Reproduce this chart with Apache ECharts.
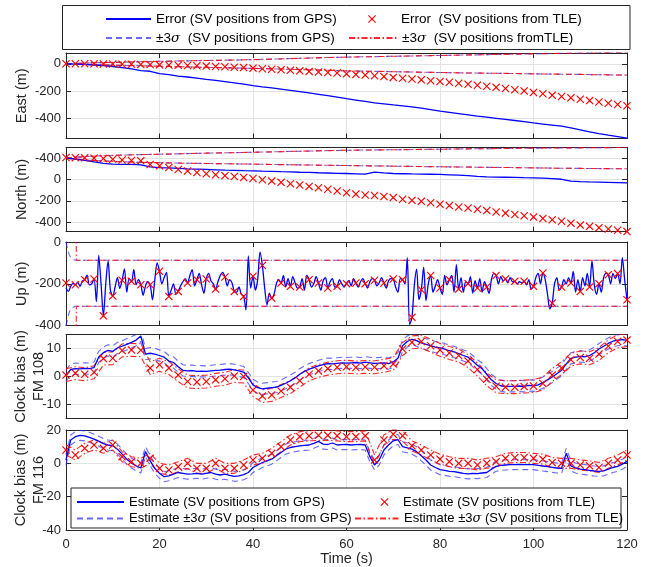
<!DOCTYPE html>
<html>
<head>
<meta charset="utf-8">
<script src="https://cdn.jsdelivr.net/npm/echarts@6/dist/echarts.min.js"></script>
<style>
html, body { margin: 0; padding: 0; background: #fff; }
#chart { width: 646px; height: 567px; }
</style>
</head>
<body>
<div id="chart"></div>
<script>
// x axis
const timeTicks = [0, 20, 40, 60, 80, 100, 120];

// East (m), samples every 2 s
const eastGps = [0, -2, -5, -9, -14, -20, -28, -38, -50, -55, -72, -80, -90, -97, -105, -114, -122, -131, -140, -150,
  -160, -169, -177, -186, -195, -204, -214, -224, -234, -245, -256, -266, -276, -286, -294, -302, -308, -316, -326, -337,
  -348, -357, -366, -375, -384, -392, -400, -408, -416, -425, -434, -442, -450, -458, -470, -484, -500, -513, -524, -534, -545];
const eastTle = [0, 0, 0, 0, -1, -2, -3, -4, -5, -6, -8, -9, -11, -13, -15, -17, -20, -22, -25, -28,
  -32, -36, -40, -44, -48, -52, -56, -60, -64, -68, -74, -78, -83, -88, -94, -100, -106, -112, -118, -124,
  -130, -136, -143, -150, -157, -165, -173, -181, -190, -199, -210, -220, -230, -240, -250, -260, -270, -280, -290, -299, -308];
// East +/-3 sigma, samples every 5 s
const eastSigHi = [0, 6, 10, 14, 18, 21, 24, 27, 30, 35, 40, 45, 49, 52, 55, 58, 61, 64, 67, 70, 73, 76, 79, 82, 85];
const eastSigLo = [0, -6, -10, -14, -18, -22, -26, -30, -34, -38, -42, -47, -52, -55, -58, -61, -64, -67, -69, -71, -74, -76, -78, -81, -83];

// North (m), samples every 2 s
const northGps = [200, 192, 180, 165, 152, 144, 141, 141, 138, 118, 112, 108, 104, 100, 97, 94, 91, 88, 86, 83,
  81, 78, 76, 73, 71, 68, 66, 63, 61, 58, 56, 53, 50, 70, 62, 56, 54, 52, 51, 49,
  47, 44, 41, 36, 30, 25, 23, 21, 19, 17, 16, 13, 8, 2, -16, -20, -23, -25, -27, -29, -31];
const northTle = [206, 205, 203, 200, 197, 190, 183, 178, 175, 141, 128, 112, 94, 80, 66, 54, 44, 36, 28, 18,
  9, -3, -15, -27, -40, -52, -65, -78, -92, -108, -125, -137, -145, -150, -160, -170, -185, -196, -205, -218,
  -232, -245, -258, -268, -280, -292, -305, -316, -328, -340, -353, -365, -378, -392, -410, -428, -440, -452, -465, -477, -489];
// North +/-3 sigma, samples every 5 s
const northSigHi = [200, 218, 226, 232, 237, 242, 247, 251, 256, 260, 265, 270, 274, 277, 279, 282, 284, 287, 289, 292, 294, 296, 297, 299, 300];
const northSigLo = [200, 180, 170, 162, 157, 153, 150, 147, 144, 140, 137, 134, 131, 128, 125, 122, 119, 117, 114, 112, 109, 106, 104, 102, 100];
const northTickText = { '200': '-400', '0': '0', '-200': '-200', '-400': '-400' };

// Up (m), GPS every 0.5 s
const upGps = [
  -220, -236, -212, -198, -204, -192, -212, -186, -180, -158, -205, -200, -177, -285, -64, -200,
  -353, -200, -92, -230, -258, -215, -170, -222, -183, -128, -240, -175, -188, -132, -205, -180,
  -204, -255, -210, -190, -204, -276, -180, -100, -140, -200, -170, -145, -260, -230, -200, -250,
  -236, -210, -190, -175, -196, -160, -132, -210, -180, -150, -205, -245, -177, -150, -185, -200,
  -225, -190, -160, -145, -167, -210, -180, -195, -236, -240, -215, -250, -260, -324, -67, -220,
  -164, -230, -180, -48, -112, -220, -300, -245, -268, -250, -200, -180, -196, -160, -215, -175,
  -212, -165, -195, -220, -215, -175, -230, -160, -180, -215, -200, -165, -196, -230, -185, -170,
  -220, -190, -175, -215, -212, -180, -200, -215, -199, -185, -210, -175, -196, -215, -190, -175,
  -199, -220, -190, -175, -183, -210, -195, -170, -196, -220, -185, -175, -177, -215, -240, -175,
  -180, -200, -75, -395, -360, -210, -130, -275, -228, -120, -280, -200, -160, -240, -210, -180,
  -220, -250, -160, -205, -180, -160, -240, -108, -225, -170, -240, -190, -199, -165, -245, -185,
  -220, -175, -240, -190, -215, -245, -180, -150, -160, -200, -165, -185, -177, -195, -170, -190,
  -188, -200, -190, -195, -188, -205, -180, -225, -212, -170, -150, -200, -148, -180, -250, -320,
  -292, -200, -170, -230, -215, -180, -200, -170, -196, -140, -240, -180, -236, -170, -210, -150,
  -215, -90, -205, -250, -199, -240, -170, -150, -156, -200, -150, -175, -151, -200, -75, -180,
  -276];
// Up TLE, every 2 s
const upTle = [-196, -204, -180, -177, -353, -258, -183, -188, -204, -204, -140, -260, -236, -196, -180, -177, -225, -167, -236, -260,
  -164, -112, -268, -196, -212, -215, -180, -196, -220, -212, -199, -196, -199, -183, -196, -177, -180, -360, -228, -160,
  -220, -180, -225, -199, -220, -215, -160, -177, -188, -188, -212, -148, -292, -215, -196, -236, -215, -199, -156, -151, -276];
// Up +/-3 sigma
const upSigGpsT = [0, 0.3, 0.7, 1.2, 2, 120];
const upSigGpsHi = [0, -30, -62, -80, -87, -87];
const upSigGpsLo = [-400, -370, -335, -315, -307, -307];
const upSigTleT = [2.2, 2.2, 120];
const upSigTleHi = [100, -87, -87];
const upSigTleLo = [-500, -307, -307];

// Clock bias FM 108 (m), GPS every 1 s, TLE every 2 s
const clk108Gps = [0.3, 2.5, 2.8, 2.7, 2.9, 2.8, 3.2, 7.0, 8.5, 9.3, 9.0, 10.2, 10.8, 11.5, 12.2, 13.0, 14.5, 8.0, 8.3, 8.0,
  7.5, 6.9, 5.5, 5.0, 3.5, 2.2, 2.0, 2.1, 1.8, 1.9, 1.8, 2.0, 2.2, 2.3, 2.5, 2.6, 2.4, 2.0, 1.6, -0.5,
  -3.0, -4.0, -4.4, -4.2, -4.0, -3.8, -3.2, -2.4, -1.5, -0.5, 0.8, 1.8, 2.6, 3.2, 3.8, 4.2, 4.6, 4.5, 4.7, 4.9,
  4.8, 4.9, 5.0, 4.8, 5.1, 4.9, 4.7, 4.8, 4.9, 4.6, 5.2, 6.5, 11.0, 12.5, 13.3, 12.8, 12.0, 11.5, 11.0, 10.5,
  10.2, 9.8, 9.2, 8.8, 8.2, 7.5, 6.9, 5.5, 4.0, 2.8, 0.8, -1.2, -2.5, -3.3, -3.6, -3.5, -3.5, -3.4, -3.5, -3.2,
  -3.3, -3.0, -2.2, -1.2, -0.2, 1.0, 2.2, 4.5, 6.5, 6.9, 7.2, 7.0, 7.5, 8.5, 9.8, 10.8, 11.8, 12.6, 13.0, 13.2, 12.9];
const clk108Tle = [0.5, 1.2, 0.8, 1.5, 6.4, 6.5, 9.3, 9.5, 9.4, 3.0, 4.2, 3.0, 0.5, -1.8, -2.0, -1.8, -1.2, -0.8, 0.2, 0.0,
  -4.8, -7.0, -6.6, -5.2, -3.8, -1.5, 0.8, 2.0, 2.8, 3.3, 3.5, 3.2, 3.4, 3.3, 3.8, 4.5, 9.8, 12.2, 12.5, 11.0,
  9.5, 8.4, 7.5, 5.5, 2.5, -1.0, -3.5, -3.8, -3.8, -3.6, -3.4, -2.5, 0.5, 3.0, 6.0, 6.8, 6.5, 8.0, 10.8, 12.5, 13.0];
const clk108GpsSig = 2.0;
const clk108TleSig = 2.3;

// Clock bias FM 116 (m)
const clk116Gps = [2.0, 14.0, 16.0, 16.8, 16.5, 15.6, 14.5, 13.3, 11.8, 11.0, 10.5, 8.5, 5.5, 2.5, 0.2, -1.5, -2.8, 7.0, 1.5, -3.0,
  -6.0, -8.0, -7.5, -6.5, -5.5, -6.0, -6.5, -6.3, -6.0, -6.5, -6.0, -5.5, -6.5, -7.0, -6.5, -7.2, -7.8, -7.5, -6.8, -5.5,
  -2.5, -1.0, 0.5, 1.5, 2.5, 4.5, 6.5, 8.5, 9.5, 10.0, 10.5, 10.8, 11.0, 12.0, 13.2, 11.5, 11.3, 12.2, 11.0, 11.2,
  11.3, 11.0, 11.2, 11.3, 11.0, 4.0, -1.0, 2.0, 8.0, 11.0, 13.5, 14.3, 10.0, 9.3, 8.5, 7.0, 4.5, 2.0, -1.0, -2.5,
  -3.8, -4.2, -4.8, -5.0, -5.5, -6.0, -6.3, -6.0, -6.2, -5.8, -5.5, -3.5, -1.8, -1.2, -1.0, -0.8, -0.8, -0.7, -0.8, -0.8,
  -0.8, -1.2, -1.6, -2.0, -2.4, -2.8, -3.0, 6.0, -1.5, -2.8, -3.5, -3.8, -4.2, -4.6, -4.8, -4.5, -3.5, -2.5, -1.8, -0.5, 1.2];
const clk116Tle = [8, 5, 9, 11, 9, 11, 4, 1, 0, 3, -3, -4, -2, 0, -3, -3, 0, -3, -3, -1,
  2, 3, 6, 10, 14, 16, 16.5, 16.8, 16.8, 16.5, 16, 16, 16.5, 2, 14, 17.5, 16.5, 10.5, 8, 5,
  2.5, 1, 0, 0, -1, 0, 1, 3, 3.5, 3.5, 3, 2.5, 0.5, 0, 0, -1, -1.5, -2.5, 0, 2, 5];
const clk116GpsSig = 3.0;
const clk116TleSig = 3.0;

// legend names
const errGps = 'Error (SV positions from GPS)';
const errTle = 'Error  (SV positions from TLE)';
const sigGps = '±3σ  (SV positions from GPS)';
const sigTle = '±3σ  (SV positions fromTLE)';
const estGps = 'Estimate (SV positions from GPS)';
const estTle = 'Estimate (SV positions from TLE)';
const estSigGps = 'Estimate ±3σ (SV positions from GPS)';
const estSigTle = 'Estimate ±3σ (SV positions from TLE)';

const font = 'Liberation Sans, Arial, Helvetica, sans-serif';
const axisColor = '#262626';
const gridColor = '#e3e3e3';
const blue = '#0000ff';
const red = '#ff0000';
const blueDash = 'rgba(40,40,255,0.7)';
const redDash = 'rgba(255,0,0,0.85)';
const xMark = 'path://M0,1L1,0L5,4L9,0L10,1L6,5L10,9L9,10L5,6L1,10L0,9L4,5Z';

function every(step, vals) {
  return vals.map((v, i) => [i * step, v]);
}
function zip(ts, vals) {
  return ts.map((t, i) => [t, vals[i]]);
}
function shift(step, vals, d) {
  return vals.map((v, i) => [i * step, v + d]);
}

const panels = [
  { top: 53, height: 85.5, name: 'East (m)', min: -548, max: 79, step: 200 },
  { top: 147.3, height: 84.4, name: 'North (m)', min: -490, max: 302, step: 200, labels: northTickText },
  { top: 242, height: 83.7, name: 'Up (m)', min: -400, max: 0, step: 200 },
  { top: 334.5, height: 84, name: 'Clock bias (m)\nFM 108', min: -15, max: 15, step: 10 },
  { top: 430, height: 100, name: 'Clock bias (m)\nFM 116', min: -40, max: 20, step: 20 }
];

const grid = [], xAxis = [], yAxis = [];
panels.forEach((p, i) => {
  const last = i === panels.length - 1;
  grid.push({ left: 66, right: 19, top: p.top, height: p.height, outerBoundsMode: 'none', containLabel: false });
  xAxis.push({
    type: 'value', gridIndex: i, min: 0, max: 120, interval: 20, position: 'bottom',
    axisLine: { show: true, onZero: false, lineStyle: { color: axisColor } },
    axisTick: { show: true, inside: true, length: 5, lineStyle: { color: axisColor } },
    axisLabel: {
      show: last, fontSize: 13, color: axisColor, fontFamily: font, margin: 8,
      formatter: v => timeTicks.indexOf(v) >= 0 ? String(v) : ''
    },
    splitLine: { show: true, lineStyle: { color: gridColor } },
    name: last ? 'Time (s)' : '', nameLocation: 'middle', nameGap: 21, nameMoveOverlap: false,
    nameTextStyle: { fontSize: 14.5, color: axisColor, fontFamily: font }
  });
  xAxis.push({
    type: 'value', gridIndex: i, min: 0, max: 120, interval: 20, position: 'top',
    axisLine: { show: true, onZero: false, lineStyle: { color: axisColor } },
    axisTick: { show: true, inside: true, length: 5, lineStyle: { color: axisColor } },
    axisLabel: { show: false }, splitLine: { show: false }
  });
  const twoLine = p.name.indexOf('\n') >= 0;
  yAxis.push({
    type: 'value', gridIndex: i, min: p.min, max: p.max, minInterval: p.step, maxInterval: p.step, position: 'left',
    axisLine: { show: true, onZero: false, lineStyle: { color: axisColor } },
    axisTick: { show: true, inside: true, length: 5, lineStyle: { color: axisColor } },
    axisLabel: {
      fontSize: 13, color: axisColor, fontFamily: font, margin: 5,
      formatter: v => {
        if (Math.abs(v % p.step) > 1e-9) return '';
        if (p.labels) return p.labels[String(v)] || '';
        return String(v);
      }
    },
    splitLine: { show: true, lineStyle: { color: gridColor } },
    name: p.name, nameLocation: 'middle', nameGap: twoLine ? 18 : 35, nameMoveOverlap: false,
    nameTextStyle: { fontSize: 14.5, color: axisColor, fontFamily: font, lineHeight: 18 }
  });
  yAxis.push({
    type: 'value', gridIndex: i, min: p.min, max: p.max, minInterval: p.step, maxInterval: p.step, position: 'right',
    axisLine: { show: true, onZero: false, lineStyle: { color: axisColor } },
    axisTick: { show: true, inside: true, length: 5, lineStyle: { color: axisColor } },
    axisLabel: { show: false }, splitLine: { show: false }
  });
});

function solid(name, i, data, smooth) {
  return { type: 'line', name, xAxisIndex: 2 * i, yAxisIndex: 2 * i, data, symbol: 'none', smooth: smooth || false,
    color: blue, lineStyle: { color: blue, width: 1.3 }, z: 3 };
}
function dashed(name, i, data) {
  return { type: 'line', name, xAxisIndex: 2 * i, yAxisIndex: 2 * i, data, symbol: 'none',
    color: blueDash, lineStyle: { color: blueDash, width: 1.1, type: [6, 4] }, z: 2 };
}
function dashDot(name, i, data) {
  return { type: 'line', name, xAxisIndex: 2 * i, yAxisIndex: 2 * i, data, symbol: 'none',
    color: redDash, lineStyle: { color: redDash, width: 1.1, type: [6, 2.5, 1.5, 2.5] }, z: 2 };
}
// red crosses: a line series whose line is hidden, so the legend icon is the cross alone
function marks(name, i, data) {
  return { type: 'line', name, xAxisIndex: 2 * i, yAxisIndex: 2 * i, data, symbol: xMark, symbolSize: 8,
    showSymbol: true, showAllSymbol: true, color: red, itemStyle: { color: red },
    lineStyle: { width: 0, opacity: 0 }, z: 4 };
}

const series = [
  // East
  dashed(sigGps, 0, every(5, eastSigHi)), dashed(sigGps, 0, every(5, eastSigLo)),
  dashDot(sigTle, 0, every(5, eastSigHi)), dashDot(sigTle, 0, every(5, eastSigLo)),
  solid(errGps, 0, every(2, eastGps)), marks(errTle, 0, every(2, eastTle)),
  // North
  dashed(sigGps, 1, every(5, northSigHi)), dashed(sigGps, 1, every(5, northSigLo)),
  dashDot(sigTle, 1, every(5, northSigHi)), dashDot(sigTle, 1, every(5, northSigLo)),
  solid(errGps, 1, every(2, northGps)), marks(errTle, 1, every(2, northTle)),
  // Up
  dashed(sigGps, 2, zip(upSigGpsT, upSigGpsHi)), dashed(sigGps, 2, zip(upSigGpsT, upSigGpsLo)),
  dashDot(sigTle, 2, zip(upSigTleT, upSigTleHi)), dashDot(sigTle, 2, zip(upSigTleT, upSigTleLo)),
  solid(errGps, 2, every(0.5, upGps), 0.3), marks(errTle, 2, every(2, upTle)),
  // Clock 108
  dashed(estSigGps, 3, shift(1, clk108Gps, clk108GpsSig)), dashed(estSigGps, 3, shift(1, clk108Gps, -clk108GpsSig)),
  dashDot(estSigTle, 3, shift(2, clk108Tle, clk108TleSig)), dashDot(estSigTle, 3, shift(2, clk108Tle, -clk108TleSig)),
  solid(estGps, 3, every(1, clk108Gps)), marks(estTle, 3, every(2, clk108Tle)),
  // Clock 116
  dashed(estSigGps, 4, shift(1, clk116Gps, clk116GpsSig)), dashed(estSigGps, 4, shift(1, clk116Gps, -clk116GpsSig)),
  dashDot(estSigTle, 4, shift(2, clk116Tle, clk116TleSig)), dashDot(estSigTle, 4, shift(2, clk116Tle, -clk116TleSig)),
  solid(estGps, 4, every(1, clk116Gps)), marks(estTle, 4, every(2, clk116Tle))
];

// cross items keep their symbol, line items hide the default centre dot
const legendItems = [
  { name: errGps, left: 105, top: 12, w: 45, fs: 13.5, dot: false },
  { name: errTle, left: 348, top: 12, w: 48, fs: 13.5, dot: true },
  { name: sigGps, left: 105, top: 31, w: 45, fs: 13.5, dot: false },
  { name: sigTle, left: 348, top: 31, w: 48, fs: 13.5, dot: false },
  { name: estGps, left: 76, top: 495.5, w: 47, fs: 13, dot: false },
  { name: estTle, left: 371, top: 495.5, w: 27, fs: 13, dot: true },
  { name: estSigGps, left: 76, top: 512, w: 47, fs: 13, dot: false },
  { name: estSigTle, left: 354, top: 512, w: 44, fs: 13, dot: false }
];
const legend = legendItems.map(it => ({
  data: [it.name], left: it.left, top: it.top, padding: 0, itemWidth: it.w, itemHeight: 10,
  selectedMode: false, z: 20,
  itemStyle: it.dot ? {} : { opacity: 0 },
  formatter: n => n.replace('σ', '{s|σ}'),
  textStyle: {
    fontSize: it.fs, color: '#000', fontFamily: font,
    rich: { s: { fontStyle: 'italic', fontSize: it.fs, fontFamily: 'DejaVu Serif, serif', color: '#000' } }
  }
}));

const chart = echarts.init(document.getElementById('chart'), null, { renderer: 'canvas' });
chart.setOption({
  animation: false,
  backgroundColor: '#fff',
  grid, xAxis, yAxis, series, legend,
  graphic: [
    { type: 'rect', z: 10, shape: { x: 62.5, y: 5.5, width: 567.5, height: 44 },
      style: { fill: '#fff', stroke: axisColor, lineWidth: 1 } },
    { type: 'rect', z: 10, shape: { x: 71, y: 488, width: 550, height: 40 },
      style: { fill: '#fff', stroke: axisColor, lineWidth: 1 } }
  ]
});
</script>
</body>
</html>
